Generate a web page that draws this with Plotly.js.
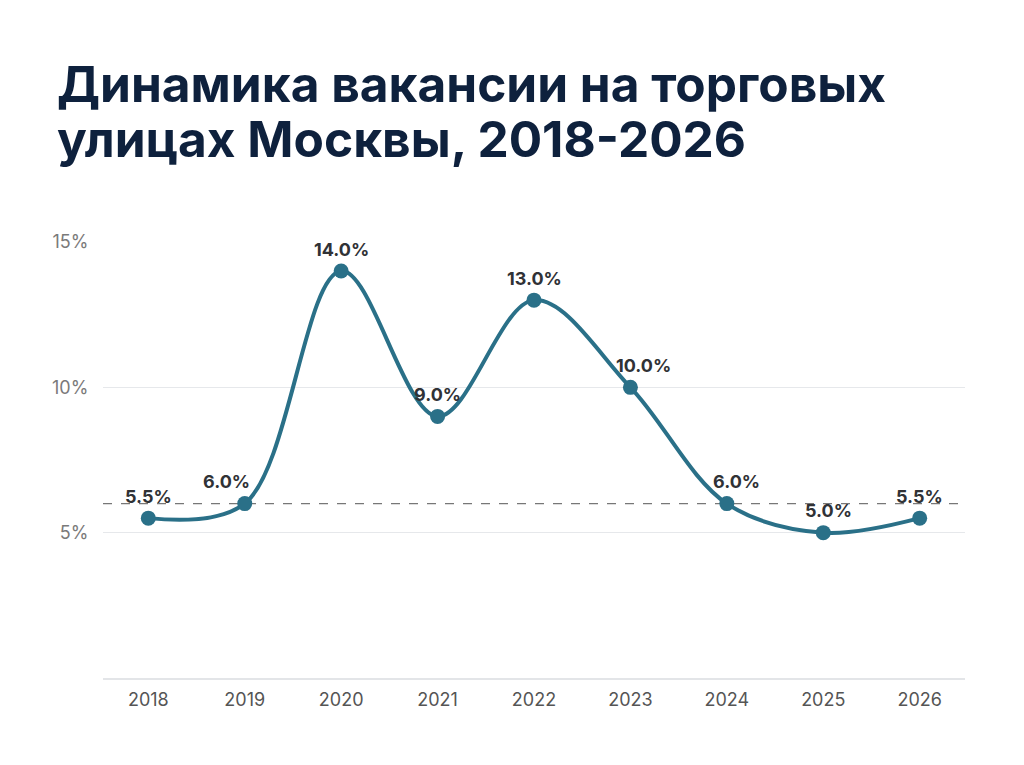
<!DOCTYPE html>
<html>
<head>
<meta charset="utf-8">
<script src="https://cdn.plot.ly/plotly-3.0.1.min.js"></script>
<style>
  html, body { margin: 0; padding: 0; background: #fff; }
  #chart { width: 1024px; height: 765px; }
</style>
</head>
<body>
<div id="chart"></div>
<script>
// vacancy rate on Moscow high streets, %
const years = [2018, 2019, 2020, 2021, 2022, 2023, 2024, 2025, 2026];
const vacancy = [5.5, 6.0, 14.0, 9.0, 13.0, 10.0, 6.0, 5.0, 5.5];
const yTicks = [5, 10, 15];
const yTickLabels = ["5%", "10%", "15%"];
const refLevel = 6;
const titleLines = ["Динамика вакансии на торговых", "улицах Москвы, 2018-2026"];

const teal = "#2a7088";

// small sideways nudges so labels clear the curve
const labelShift = { 2019: -18, 2023: 13, 2024: 10, 2025: 5 };

const trace = {
  x: years,
  y: vacancy,
  type: "scatter",
  mode: "lines+markers",
  line: { color: teal, width: 4, shape: "spline", smoothing: 1 },
  marker: { color: teal, size: 15 },
  hoverinfo: "skip",
};

const labels = years.map((yr, i) => ({
  x: yr,
  y: vacancy[i],
  xref: "x",
  yref: "y",
  text: vacancy[i].toFixed(1) + "%",
  showarrow: false,
  yanchor: "middle",
  yshift: 22,
  xshift: labelShift[yr] || 0,
  font: { family: "Inter, sans-serif", size: 18, color: "#303236", weight: 700 },
}));

// title as two annotations so the line gap can be set exactly
const plotTop = 242, plotBottom = 678;
const titleRows = [84, 139];
const titleNotes = titleLines.map((line, i) => ({
  text: line,
  xref: "paper",
  yref: "paper",
  x: (55 - 103) / (965 - 103),
  y: (plotBottom - titleRows[i]) / (plotBottom - plotTop),
  xanchor: "left",
  yanchor: "middle",
  showarrow: false,
  font: { family: "Inter, sans-serif", size: 49.6, color: "#0e213d", weight: 700 },
}));

const layout = {
  width: 1024,
  height: 765,
  paper_bgcolor: "#fff",
  plot_bgcolor: "#fff",
  margin: { t: 242, b: 87, l: 103, r: 59 },
  showlegend: false,
  xaxis: {
    range: [2017.53, 2026.47],
    tickvals: years,
    ticktext: years.map(String),
    showgrid: false,
    zeroline: false,
    showline: true,
    linecolor: "#e3e5e8",
    linewidth: 1.5,
    ticks: "outside",
    ticklen: 5,
    tickcolor: "rgba(0,0,0,0)",
    tickfont: { family: "Inter, sans-serif", size: 18, color: "#555" },
    fixedrange: true,
  },
  yaxis: {
    range: [0, 15],
    tickvals: yTicks,
    ticktext: yTickLabels,
    showgrid: true,
    gridcolor: "#e6e8eb",
    gridwidth: 1.5,
    zeroline: false,
    showline: false,
    ticks: "outside",
    ticklen: 10,
    tickcolor: "rgba(0,0,0,0)",
    tickfont: { family: "Inter, sans-serif", size: 18, color: "#7a7a7a" },
    fixedrange: true,
  },
  shapes: [
    {
      type: "line",
      xref: "paper",
      yref: "y",
      x0: 0,
      x1: 1,
      y0: refLevel,
      y1: refLevel,
      line: { color: "#777", width: 1.3, dash: "dash" },
      layer: "below",
    },
  ],
  annotations: titleNotes.concat(labels),
};

Plotly.newPlot("chart", [trace], layout, { displayModeBar: false, staticPlot: true });
</script>
</body>
</html>
